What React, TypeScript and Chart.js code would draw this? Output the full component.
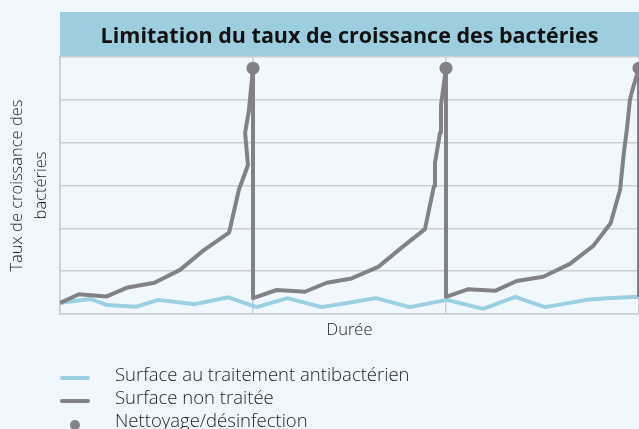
import React, { useEffect, useRef } from "react";
import { Chart, registerables } from "chart.js";

Chart.register(...registerables);

const TITLE = "Limitation du taux de croissance des bactéries";
const Y_TITLE = ["Taux de croissance des", "bactéries"];
const X_TITLE = "Durée";
const LEGEND_LABELS = [
  "Surface au traitement antibactérien",
  "Surface non traitée",
  "Nettoyage/désinfection",
];

// Untreated surface (grey), time units 0..30, growth 0..60
const untreatedX = [
  0, 0.98, 2.42, 3.51, 4.89, 6.22, 7.42, 8.76, 9.27, 9.74, 9.59, 9.79, 10.0,
  10.0, 11.23, 12.69, 13.82, 15.11, 16.49, 17.7, 18.91, 19.38, 19.43, 19.69, 19.74, 20.0,
  20.0, 21.16, 22.54, 23.66, 25.04, 26.42, 27.63, 28.53, 29.02, 29.22, 29.38, 29.53, 29.69, 30.0,
  30.0,
];
const untreatedY = [
  2.6, 4.6, 4.1, 6.2, 7.3, 10.3, 14.8, 19.0, 29.0, 34.8, 42.3, 47.6, 57.4,
  3.7, 5.6, 5.2, 7.3, 8.3, 11.0, 15.5, 19.8, 29.9, 35.3, 42.3, 48.8, 57.4,
  4.0, 5.8, 5.4, 7.7, 8.7, 11.7, 15.9, 21.2, 29.0, 37.8, 43.4, 50.0, 52.8, 57.4,
  4.4,
];

// Antibacterial treated surface (light blue)
const treatedX = [
  0, 1.61, 2.42, 3.97, 5.09, 6.99, 8.72, 10.19, 11.78, 13.56, 15.03, 16.37, 18.13,
  20.04, 21.93, 23.58, 25.13, 27.29, 28.33, 30.0,
];
const treatedY = [
  2.6, 3.5, 2.1, 1.7, 3.3, 2.3, 3.9, 1.6, 3.7, 1.6, 2.7, 3.7, 1.6,
  3.3, 1.2, 4.0, 1.6, 3.3, 3.7, 4.0,
];

// Cleaning / disinfection events
const cleaningX = [10, 20, 30];
const cleaningY = [57.4, 57.4, 57.4];

const X_MAX = 30;
const Y_MAX = 60;
const STEP_X = 10;
const STEP_Y = 10;

const BLUE = "#9bcfe2";
const GREY = "#818285";
const BAR = "#9ccee0";
const BG = "#f1f8fd";
const GRID = "#c9ced1";
const FONT = "'Open Sans', 'Noto Sans', sans-serif";

const decorPlugin = {
  id: "decor",
  beforeDraw(chart: any) {
    const { ctx, chartArea } = chart;
    ctx.save();
    ctx.fillStyle = BG;
    ctx.fillRect(0, 0, chart.width, chart.height);
    ctx.fillStyle = BAR;
    ctx.fillRect(chartArea.left, 12, chartArea.right - chartArea.left, chartArea.top - 12);
    ctx.fillStyle = "#111111";
    ctx.font = `bold 21.5px ${FONT}`;
    ctx.textAlign = "center";
    ctx.textBaseline = "alphabetic";
    ctx.fillText(TITLE, (chartArea.left + chartArea.right) / 2, 43);
    ctx.restore();
  },
  afterDraw(chart: any) {
    const { ctx, chartArea } = chart;
    ctx.save();
    ctx.fillStyle = "#222222";
    ctx.font = `300 16.5px ${FONT}`;
    // y-axis title
    const cy = (chartArea.top + chartArea.bottom) / 2;
    const xs = [17, 41];
    Y_TITLE.forEach((t, i) => {
      ctx.save();
      ctx.translate(xs[i], cy);
      ctx.rotate(-Math.PI / 2);
      ctx.textAlign = "center";
      ctx.textBaseline = "middle";
      ctx.fillText(t, 0, 0);
      ctx.restore();
    });
    // x-axis title
    ctx.textAlign = "center";
    ctx.textBaseline = "middle";
    ctx.fillText(X_TITLE, (chartArea.left + chartArea.right) / 2, 330);
    // legend
    ctx.font = `300 18.5px ${FONT}`;
    ctx.textAlign = "left";
    ctx.textBaseline = "alphabetic";
    const baselines = [381, 404, 427];
    LEGEND_LABELS.forEach((t, i) => {
      ctx.fillText(t, 115, baselines[i]);
    });
    ctx.lineCap = "round";
    ctx.lineWidth = 4;
    ctx.strokeStyle = BLUE;
    ctx.beginPath();
    ctx.moveTo(62, 378);
    ctx.lineTo(88, 378);
    ctx.stroke();
    ctx.strokeStyle = GREY;
    ctx.beginPath();
    ctx.moveTo(62, 401);
    ctx.lineTo(88, 401);
    ctx.stroke();
    ctx.fillStyle = GREY;
    ctx.beginPath();
    ctx.arc(75, 425, 5, 0, Math.PI * 2);
    ctx.fill();
    ctx.restore();
  },
};

export default function App() {
  const ref = useRef<HTMLCanvasElement | null>(null);
  useEffect(() => {
    if (!ref.current) return;
    const chart = new Chart(ref.current, {
      type: "line",
      data: {
        datasets: [
          {
            label: LEGEND_LABELS[2],
            data: cleaningX.map((x, i) => ({ x, y: cleaningY[i] })),
            showLine: false,
            pointRadius: 6.5,
            pointBackgroundColor: GREY,
            pointBorderWidth: 0,
            borderColor: GREY,
            order: 0,
          },
          {
            label: LEGEND_LABELS[1],
            data: untreatedX.map((x, i) => ({ x, y: untreatedY[i] })),
            borderColor: GREY,
            borderWidth: 4,
            pointRadius: 0,
            tension: 0,
            borderJoinStyle: "round",
            order: 1,
          },
          {
            label: LEGEND_LABELS[0],
            data: treatedX.map((x, i) => ({ x, y: treatedY[i] })),
            borderColor: BLUE,
            borderWidth: 4,
            pointRadius: 0,
            tension: 0,
            borderJoinStyle: "round",
            order: 2,
          },
        ],
      },
      options: {
        responsive: false,
        animation: false,
        layout: { autoPadding: false, padding: { left: 60, top: 57, right: 0, bottom: 115 } },
        plugins: { legend: { display: false }, title: { display: false }, tooltip: { enabled: false } },
        scales: {
          x: {
            type: "linear",
            min: 0,
            max: X_MAX,
            ticks: { display: false, stepSize: STEP_X },
            grid: { color: GRID, lineWidth: 1.5, drawTicks: false },
            border: { color: GRID, width: 1.5 },
          },
          y: {
            min: 0,
            max: Y_MAX,
            ticks: { display: false, stepSize: STEP_Y },
            grid: { color: GRID, lineWidth: 1.5, drawTicks: false },
            border: { color: GRID, width: 1.5 },
          },
        },
      },
      plugins: [decorPlugin],
    } as any);
    return () => chart.destroy();
  }, []);
  return (
    <div style={{ position: "fixed", left: 0, top: 0, width: 639, height: 429, background: BG, overflow: "hidden" }}>
      <canvas ref={ref} width={639} height={429} style={{ display: "block" }} />
    </div>
  );
}
